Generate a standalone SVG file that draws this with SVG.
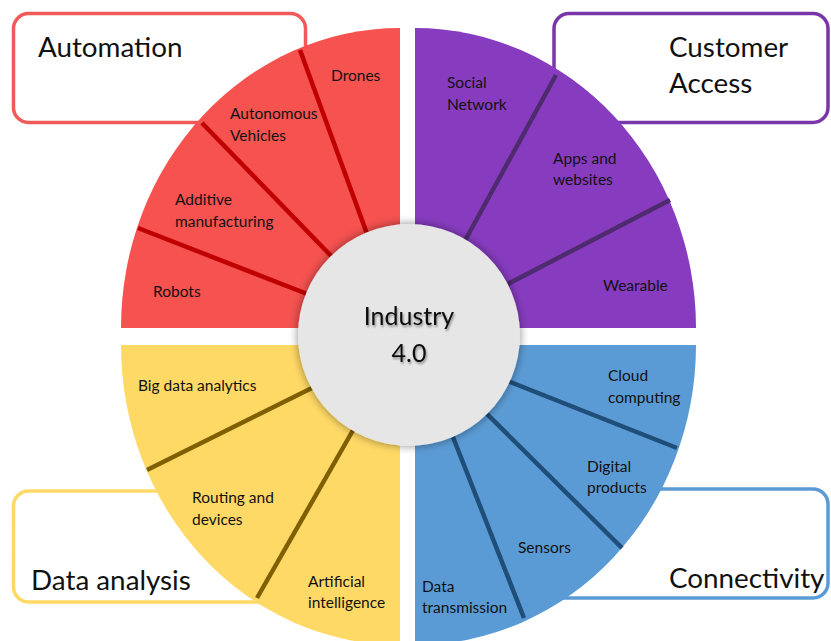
<svg xmlns="http://www.w3.org/2000/svg" width="831" height="641" viewBox="0 0 831 641">
<defs>
<style>
.lbl{font-family:Lato,"Liberation Sans",sans-serif;font-size:15.5px;fill:#111}
.ttl{font-family:Lato,"Liberation Sans",sans-serif;font-size:27.8px;fill:#111}
.ctr{font-family:Lato,"Liberation Sans",sans-serif;font-size:25px;fill:#111;text-anchor:middle}
.box{fill:#fff;stroke-width:3.5}
.div{stroke-width:4.5;stroke-linecap:butt}
</style>
<filter id="glow" x="-30%" y="-30%" width="160%" height="160%">
<feGaussianBlur in="SourceAlpha" stdDeviation="5"/>
<feComponentTransfer><feFuncA type="linear" slope="0.45"/></feComponentTransfer>
<feMerge><feMergeNode/><feMergeNode in="SourceGraphic"/></feMerge>
</filter>
<filter id="tsh" x="-10%" y="-20%" width="120%" height="140%">
<feGaussianBlur in="SourceAlpha" stdDeviation="1"/>
<feOffset dx="1" dy="1.5"/>
<feComponentTransfer><feFuncA type="linear" slope="0.4"/></feComponentTransfer>
<feMerge><feMergeNode/><feMergeNode in="SourceGraphic"/></feMerge>
</filter>
</defs>
<rect width="831" height="641" fill="#fff"/>

<g id="box-automation">
<rect class="box" x="13.5" y="13.5" width="292" height="109" rx="15" stroke="#F25A5A"/>
<text class="ttl" x="38" y="57">Automation</text>
</g>
<g id="box-customer">
<rect class="box" x="554" y="13.5" width="274" height="109" rx="15" stroke="#7A35AA"/>
<text class="ttl" x="669" y="57">Customer</text>
<text class="ttl" x="669" y="93">Access</text>
</g>
<g id="box-data">
<rect class="box" x="13.5" y="491" width="300" height="111" rx="15" stroke="#FFD966"/>
<text class="ttl" x="31" y="590">Data analysis</text>
</g>
<g id="box-connectivity">
<rect class="box" x="520" y="489" width="308" height="109" rx="15" stroke="#5B9BD5"/>
<text class="ttl" x="669" y="588">Connectivity</text>
</g>

<g id="quadrant-red">
<path d="M400,328 L121,328 A279,300 0 0 1 400,28 Z" fill="#F55250"/>
</g>
<g id="quadrant-purple">
<path d="M415,328 L415,28 A281,300 0 0 1 696,328 Z" fill="#873CBF"/>
</g>
<g id="quadrant-yellow">
<path d="M400,345 L400,645 A279,300 0 0 1 121,345 Z" fill="#FFD966"/>
</g>
<g id="quadrant-blue">
<path d="M415,345 L696,345 A281,300 0 0 1 415,645 Z" fill="#5B9BD5"/>
</g>

<g id="connectors">
<g class="div" stroke="#C00000">
<line x1="300" y1="50" x2="370" y2="242"/>
<line x1="202" y1="123" x2="338" y2="263"/>
<line x1="138" y1="228" x2="315" y2="297"/>
</g>
<g class="div" stroke="#4E2B6E">
<line x1="556" y1="75" x2="462" y2="246"/>
<line x1="670" y1="200" x2="500" y2="288"/>
</g>
<g class="div" stroke="#7F6000">
<line x1="147" y1="470" x2="320" y2="384"/>
<line x1="257" y1="598" x2="356" y2="425"/>
</g>
<g class="div" stroke="#1F4E79">
<line x1="677" y1="448" x2="500" y2="378"/>
<line x1="622" y1="548" x2="481" y2="408"/>
<line x1="524" y1="618" x2="451" y2="432"/>
</g>
</g>

<g id="center">
<circle cx="409" cy="335" r="111" fill="#E6E6E6" filter="url(#glow)"/>
<g filter="url(#tsh)">
<text class="ctr" x="409" y="325">Industry</text>
<text class="ctr" x="409" y="362">4.0</text>
</g>
</g>

<g id="labels-red">
<text class="lbl" x="331" y="81">Drones</text>
<text class="lbl" x="230" y="119">Autonomous</text>
<text class="lbl" x="230" y="141">Vehicles</text>
<text class="lbl" x="175" y="205">Additive</text>
<text class="lbl" x="175" y="227">manufacturing</text>
<text class="lbl" x="153" y="297">Robots</text>
</g>
<g id="labels-purple">
<text class="lbl" x="447" y="88">Social</text>
<text class="lbl" x="447" y="110">Network</text>
<text class="lbl" x="553" y="164">Apps and</text>
<text class="lbl" x="553" y="185">websites</text>
<text class="lbl" x="603" y="291">Wearable</text>
</g>
<g id="labels-yellow">
<text class="lbl" x="138" y="391">Big data analytics</text>
<text class="lbl" x="192" y="503">Routing and</text>
<text class="lbl" x="192" y="525">devices</text>
<text class="lbl" x="308" y="587">Artificial</text>
<text class="lbl" x="308" y="608">intelligence</text>
</g>
<g id="labels-blue">
<text class="lbl" x="608" y="381">Cloud</text>
<text class="lbl" x="608" y="403">computing</text>
<text class="lbl" x="587" y="472">Digital</text>
<text class="lbl" x="587" y="493">products</text>
<text class="lbl" x="518" y="553">Sensors</text>
<text class="lbl" x="422" y="592">Data</text>
<text class="lbl" x="422" y="613">transmission</text>
</g>
</svg>
